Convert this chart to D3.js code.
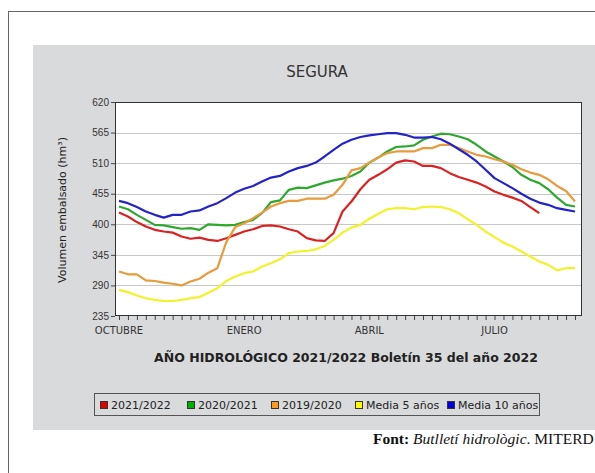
<!DOCTYPE html>
<html>
<head>
<meta charset="utf-8">
<script src="https://cdn.jsdelivr.net/npm/d3@7.9.0/dist/d3.min.js"></script>
<style>
  body { margin: 0; background: #fff; }
  svg { display: block; font-family: 'DejaVu Sans', sans-serif; }
  .source { font-family: 'Liberation Serif', serif; }
</style>
</head>
<body>
<div id="chart"></div>
<script>
// Weekly volume (hm³), hydrological year Oct-Sep
const weeks = d3.range(52);
const monthLabels = [
  { week: 0, label: 'OCTUBRE' },
  { week: 14, label: 'ENERO' },
  { week: 28, label: 'ABRIL' },
  { week: 42, label: 'JULIO' },
];
const yTicks = [235, 290, 345, 400, 455, 510, 565, 620];

const s2122 = [421, 414, 404, 396, 390, 387, 385, 378, 374, 376, 372, 370, 375, 381, 387, 391, 397, 398,
  396, 391, 387, 375, 371, 370, 384, 423, 441, 463, 480, 489, 499, 511, 515, 513, 505,
  505, 501, 492, 485, 480, 475, 468, 459, 453, 448, 442, 431, 420];
const s2021 = [432, 427, 417, 408, 399, 398, 395, 392, 393, 390, 400, 399, 398, 399, 404, 408, 420, 440,
  443, 462, 466, 465, 470, 475, 479, 482, 487, 495, 511, 520, 531, 539, 540, 542, 552,
  558, 563, 562, 558, 553, 543, 531, 522, 513, 503, 489, 480, 474, 463, 448, 435, 432];
const s1920 = [315, 310, 310, 299, 298, 295, 293, 290, 297, 302, 313, 321, 368, 395, 402, 411, 421, 432,
  438, 442, 442, 446, 446, 446, 453, 471, 497, 501, 511, 520, 528, 531, 531, 531, 537,
  537, 543, 543, 537, 531, 525, 522, 517, 513, 507, 499, 493, 489, 481, 469, 460, 441];
const media5 = [282, 278, 272, 267, 264, 262, 262, 264, 267, 269, 277, 285, 298, 306, 312, 315, 324, 330,
  337, 348, 351, 352, 355, 361, 372, 385, 394, 399, 410, 419, 427, 429, 429, 427, 431,
  432, 431, 427, 420, 409, 399, 387, 377, 367, 360, 351, 342, 333, 327, 317, 321, 321];
const media10 = [442, 438, 431, 423, 417, 412, 417, 417, 423, 425, 432, 438, 447, 457, 464, 469, 477, 484,
  487, 495, 501, 505, 511, 522, 534, 545, 552, 557, 560, 562, 564, 564, 561, 556, 556,
  557, 553, 545, 535, 525, 513, 498, 483, 474, 465, 455, 446, 439, 435, 429, 426, 423];

const seriesNames = ['2021/2022', '2020/2021', '2019/2020', 'Media 5 años', 'Media 10 años'];
const seriesValues = [s2122, s2021, s1920, media5, media10];
const lineColors = ['#d92323', '#2fa82f', '#e89b3c', '#f2f22a', '#2323c8'];
const keyColors = ['#e00000', '#00b000', '#ff9a20', '#ffff00', '#0000e0'];

const W = 595, H = 473;
const plot = { left: 115, right: 582, top: 102, bottom: 316 };

const svg = d3.select('#chart').append('svg')
  .attr('width', W).attr('height', H);

// outer frame + gray panel
svg.append('rect').attr('x', 8.5).attr('y', 11.5).attr('width', W).attr('height', H)
  .attr('fill', '#fff').attr('stroke', '#666');
svg.append('rect').attr('x', 33).attr('y', 45).attr('width', W - 33).attr('height', 385)
  .attr('fill', '#d9dadc');

svg.append('text').attr('x', 317).attr('y', 77).attr('text-anchor', 'middle')
  .attr('font-size', 15).attr('fill', '#333').text('SEGURA');

const x = d3.scaleLinear().domain([0, 51]).range([119, 575]);
const y = d3.scaleLinear().domain([235, 620]).range([plot.bottom, plot.top]);

svg.append('rect').attr('x', plot.left).attr('y', plot.top)
  .attr('width', plot.right - plot.left).attr('height', plot.bottom - plot.top)
  .attr('fill', '#fff');

// gridlines
svg.append('g').selectAll('line').data(yTicks.slice(1, -1)).join('line')
  .attr('x1', plot.left).attr('x2', plot.right)
  .attr('y1', d => Math.round(y(d)) + 0.5).attr('y2', d => Math.round(y(d)) + 0.5)
  .attr('stroke', '#c8c8c8');

// y axis
const yAxis = svg.append('g').attr('transform', `translate(${plot.left},0)`)
  .call(d3.axisLeft(y).tickValues(yTicks).tickSize(4).tickPadding(2));
yAxis.select('.domain').remove();
yAxis.selectAll('line').attr('stroke', '#444');
yAxis.selectAll('text').attr('font-size', 10).attr('fill', '#333')
  .attr('font-family', null);

// x axis ticks
const xAxis = svg.append('g').attr('transform', `translate(0,${plot.bottom})`)
  .call(d3.axisBottom(x).tickValues(weeks).tickSize(4).tickFormat(''));
xAxis.select('.domain').remove();
xAxis.selectAll('line').attr('stroke', '#444');

svg.append('g').selectAll('text').data(monthLabels).join('text')
  .attr('x', d => x(d.week)).attr('y', 334).attr('text-anchor', 'middle')
  .attr('font-size', 10).attr('fill', '#333').text(d => d.label);

// lines
const line = d3.line().x((d, i) => x(i)).y(d => y(d));
svg.append('g').selectAll('path').data(seriesValues).join('path')
  .attr('d', line).attr('fill', 'none')
  .attr('stroke', (d, i) => lineColors[i]).attr('stroke-width', 2.2)
  .attr('stroke-linejoin', 'round');

// plot border
svg.append('rect').attr('x', plot.left + 0.5).attr('y', plot.top + 0.5)
  .attr('width', plot.right - plot.left - 1).attr('height', plot.bottom - plot.top - 1)
  .attr('fill', 'none').attr('stroke', '#333');

// y title
svg.append('text').attr('transform', 'translate(66,210) rotate(-90)')
  .attr('text-anchor', 'middle').attr('font-size', 11).attr('fill', '#222')
  .text('Volumen embalsado (hm³)');

// x title
svg.append('text').attr('x', 346).attr('y', 362).attr('text-anchor', 'middle')
  .attr('font-size', 12.5).attr('font-weight', 'bold').attr('fill', '#222')
  .text('AÑO HIDROLÓGICO 2021/2022 Boletín 35 del año 2022');

// legend
svg.append('rect').attr('x', 94.5).attr('y', 393.5).attr('width', 445).attr('height', 22)
  .attr('fill', 'none').attr('stroke', '#555');
const keyX = [100, 187, 271, 355, 447];
const key = svg.append('g').selectAll('g').data(seriesNames).join('g')
  .attr('transform', (d, i) => `translate(${keyX[i]},405)`);
key.append('rect').attr('x', 0.5).attr('y', -3.5).attr('width', 7).attr('height', 7)
  .attr('fill', (d, i) => keyColors[i]).attr('stroke', '#333');
key.append('text').attr('x', 11).attr('y', 4).attr('font-size', 11).attr('fill', '#222')
  .text(d => d);

// source
const src = svg.append('text').attr('class', 'source').attr('x', 373).attr('y', 444)
  .attr('font-size', 15.5).attr('fill', '#111');
src.append('tspan').attr('font-weight', 'bold').text('Font: ');
src.append('tspan').attr('font-style', 'italic').text('Butlletí hidrològic');
src.append('tspan').text('. MITERD');
</script>
</body>
</html>
